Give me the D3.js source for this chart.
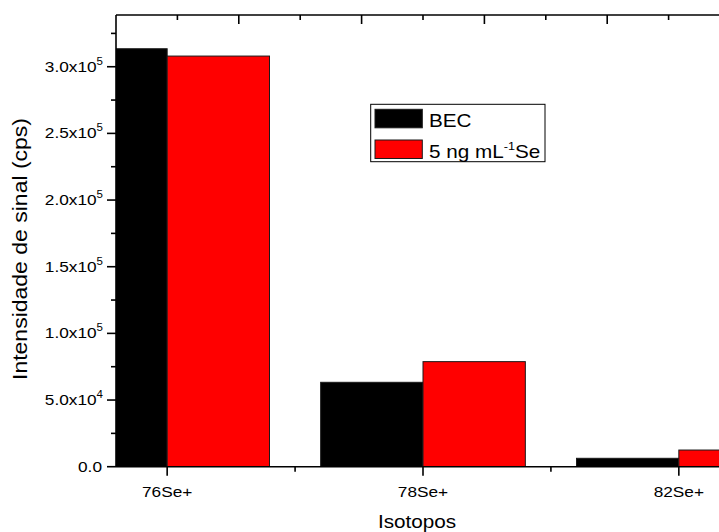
<!DOCTYPE html>
<html>
<head>
<meta charset="utf-8">
<script src="https://cdn.jsdelivr.net/npm/d3@7"></script>
<style>
  html, body { margin: 0; padding: 0; background: #fff; }
  svg { display: block; }
  text { font-family: "Liberation Sans", Arial, sans-serif; fill: #000; }
</style>
</head>
<body>
<div id="chart"></div>
<script>
// Signal intensity per selenium isotope: blank-equivalent vs 5 ng/mL Se standard
const categories = ["76Se+", "78Se+", "82Se+"];
const becValues = [313500, 63300, 6300];
const seValues = [308000, 78800, 12500];
const yTickValues = [0, 50000, 100000, 150000, 200000, 250000, 300000];
const yTickLabels = [["0.0", ""], ["5.0x10", "4"], ["1.0x10", "5"], ["1.5x10", "5"],
                     ["2.0x10", "5"], ["2.5x10", "5"], ["3.0x10", "5"]];
const seriesNames = ["BEC", "5 ng mL"];
const seriesColors = ["#000000", "#ff0000"];

const W = 719, H = 532;
const plotLeft = 116, plotTop = 15, plotBottom = 466.7, plotRight = 730;
const SX = 1.15; // horizontal glyph stretch

const svg = d3.select("#chart").append("svg").attr("width", W).attr("height", H);

const x = d3.scaleLinear().domain([-0.2, 2.2]).range([plotLeft, plotRight]);
const y = d3.scaleLinear().domain([0, 338800]).range([plotBottom, plotTop]);
const xTop = d3.scaleLinear().domain([0, 1]).range([plotLeft, plotRight]);
const barW = 0.4;

svg.append("defs").append("clipPath").attr("id", "plotclip")
  .append("rect").attr("x", plotLeft).attr("y", plotTop)
  .attr("width", plotRight - plotLeft).attr("height", plotBottom - plotTop);

const bars = svg.append("g").attr("clip-path", "url(#plotclip)");
const seriesData = [becValues, seValues];
seriesData.forEach((vals, s) => {
  bars.selectAll(null).data(vals).enter().append("rect")
    .attr("x", (d, i) => x(i + (s === 0 ? -barW : 0)))
    .attr("width", (d, i) => x(i + barW) - x(i))
    .attr("y", d => y(d))
    .attr("height", d => y(0) - y(d))
    .attr("fill", seriesColors[s])
    .attr("stroke", "#1a1a1a")
    .attr("stroke-width", 1);
});

// helper for horizontally stretched text
function label(g, px, py, anchor, size) {
  return g.append("text")
    .attr("transform", `translate(${px},${py}) scale(${SX},1)`)
    .attr("text-anchor", anchor)
    .attr("font-size", size);
}

const axes = svg.append("g").attr("stroke", "#000").attr("stroke-width", 1.6).attr("fill", "none");

// left axis
axes.append("line").attr("x1", plotLeft).attr("x2", plotLeft).attr("y1", plotTop).attr("y2", plotBottom);
d3.range(0, 338800, 25000).forEach(v => {
  const major = v % 50000 === 0;
  axes.append("line").attr("x1", plotLeft).attr("x2", plotLeft - (major ? 9 : 5))
    .attr("y1", y(v)).attr("y2", y(v));
});
// bottom axis
axes.append("line").attr("x1", plotLeft).attr("x2", plotRight).attr("y1", plotBottom).attr("y2", plotBottom);
categories.forEach((c, i) => {
  axes.append("line").attr("x1", x(i)).attr("x2", x(i)).attr("y1", plotBottom).attr("y2", plotBottom + 9);
});
[0.5, 1.5].forEach(v => {
  axes.append("line").attr("x1", x(v)).attr("x2", x(v)).attr("y1", plotBottom).attr("y2", plotBottom + 5);
});
// top axis (mirror frame with inward ticks)
axes.append("line").attr("x1", plotLeft).attr("x2", plotRight).attr("y1", plotTop).attr("y2", plotTop);
d3.range(1, 10).forEach(k => {
  const v = k / 10;
  const major = k % 2 === 0;
  axes.append("line").attr("x1", xTop(v)).attr("x2", xTop(v))
    .attr("y1", plotTop).attr("y2", plotTop + (major ? 9 : 5));
});
// right axis
axes.append("line").attr("x1", plotRight).attr("x2", plotRight).attr("y1", plotTop).attr("y2", plotBottom);

// y tick labels
const tl = svg.append("g");
yTickValues.forEach((v, i) => {
  const [base, sup] = yTickLabels[i];
  const t = label(tl, sup ? 103 : 102, y(v) + 5, "end", 15);
  t.append("tspan").text(base);
  if (sup) t.append("tspan").attr("font-size", 10).attr("dy", -7).text(sup);
});
// x tick labels
categories.forEach((c, i) => {
  label(tl, x(i), 497, "middle", 15).text(c);
});

// axis titles
label(svg, 417, 528, "middle", 18).text("Isotopos");
svg.append("text")
  .attr("transform", `translate(27,249) rotate(-90) scale(${SX},1)`)
  .attr("text-anchor", "middle").attr("font-size", 20)
  .text("Intensidade de sinal (cps)");

// legend
const lg = svg.append("g");
lg.append("rect").attr("x", 370.7).attr("y", 104.3).attr("width", 174.3).attr("height", 57.4)
  .attr("fill", "#fff").attr("stroke", "#000").attr("stroke-width", 1);
const rowY = [109.3, 140];
seriesNames.forEach((n, s) => {
  lg.append("rect").attr("x", 375).attr("y", rowY[s]).attr("width", 47.3).attr("height", 18.5)
    .attr("fill", seriesColors[s]).attr("stroke", "#1a1a1a").attr("stroke-width", 1);
  const t = label(lg, 429, rowY[s] + 17.5, "start", 18);
  t.append("tspan").text(n);
  if (s === 1) {
    t.append("tspan").attr("font-size", 11).attr("dy", -8).text("-1");
    t.append("tspan").attr("dy", 8).text("Se");
  }
});
</script>
</body>
</html>
